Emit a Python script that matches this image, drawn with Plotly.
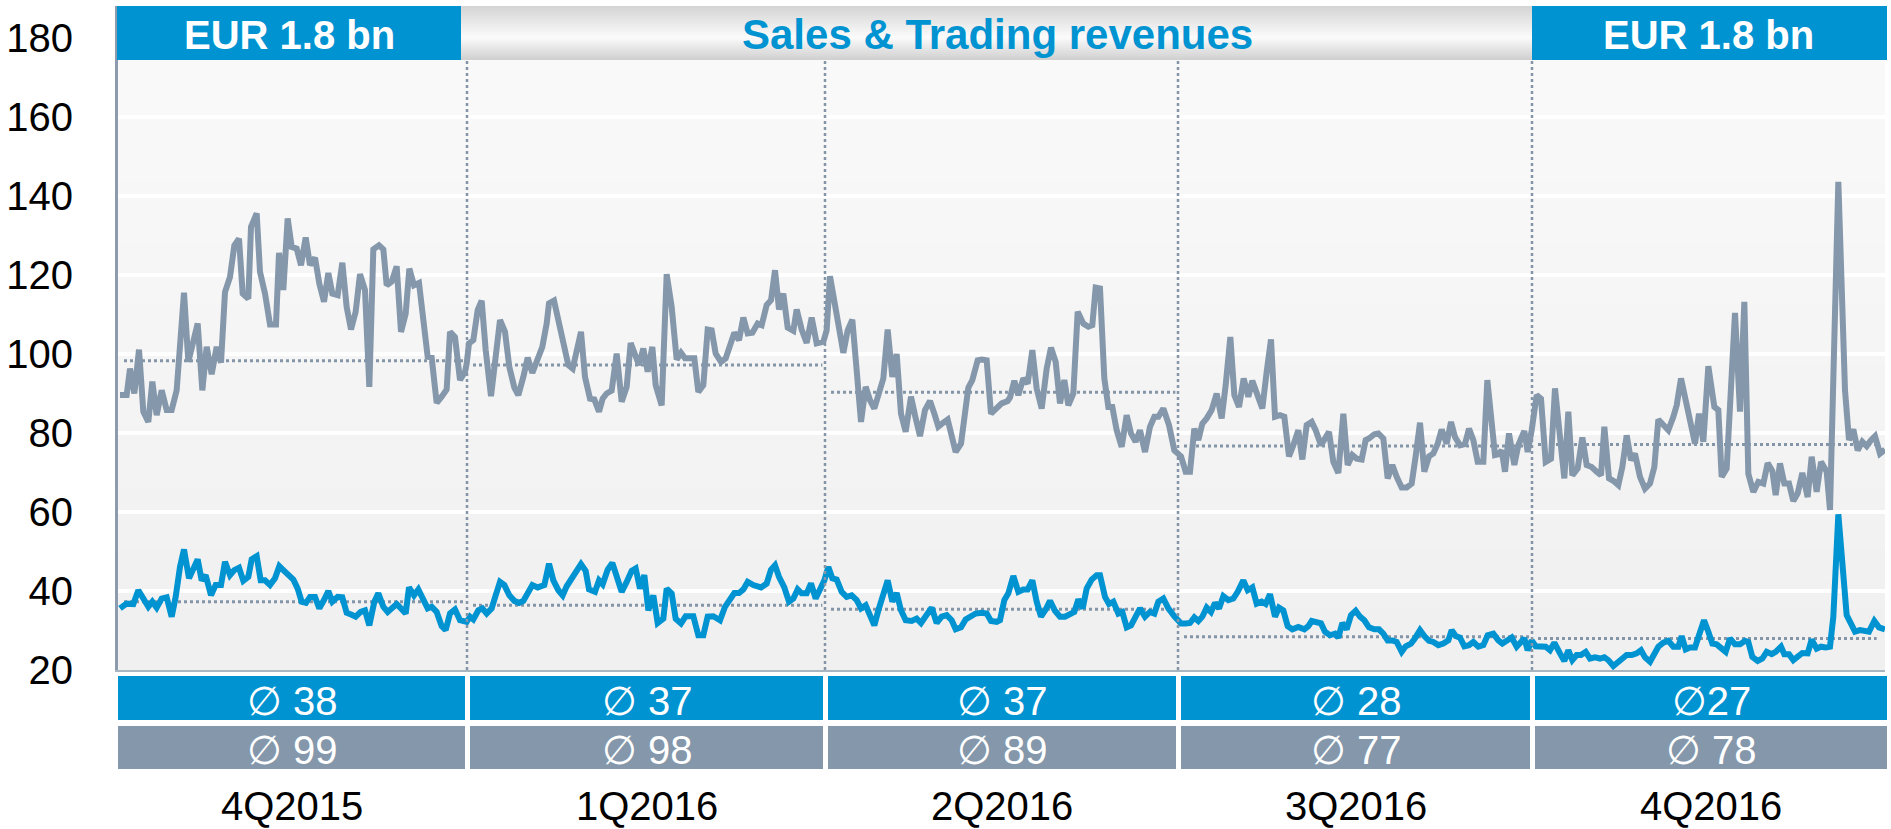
import plotly.graph_objects as go

# ---------------- data ----------------
quarters = ["4Q2015", "1Q2016", "2Q2016", "3Q2016", "4Q2016"]
header_left = "EUR 1.8 bn"
header_right = "EUR 1.8 bn"
title_text = "Sales & Trading revenues"
avg_blue_labels = ["∅ 38", "∅ 37", "∅ 37", "∅ 28", "∅27"]
avg_gray_labels = ["∅ 99", "∅ 98", "∅ 89", "∅ 77", "∅ 78"]
avg_blue_level = [37.3, 36.4, 35.4, 28.4, 28.0]
avg_gray_level = [98.3, 97.2, 90.3, 76.7, 77.1]
y_ticks = [20, 40, 60, 80, 100, 120, 140, 160, 180]

# time axis (trading-time units, one quarter ~ 1060 units)
quarter_bounds = [0, 1047, 2121, 3180, 4242, 5301]
segment_origin = [-9, 1041, 2091, 3141, 4191]

gray_t_q0 = [15,35,45,58,72,85,100,112,125,140,155,170,185,207,220,248,262,275,290,305,318,330,345,358,372,383,400,408,425,435,450,465,483,492,505,518,530,545,558,572,585,600,613,627,640,652,668,682,695,708,722,735,750,763,775,792,805,815,830,845,858,872,883,897,912,925,938,950,965,980,995,1005,1020,1035,1050]
gray_v_q0 = [89.6,89.6,96.3,90.0,101.1,85.4,82.8,93.0,84.5,90.8,85.8,85.8,90.8,115.5,98.0,107.7,90.8,101.8,94.9,101.8,97.8,115.7,119.5,127.5,129.2,115.3,114.0,132.2,135.6,120.8,115.3,107.5,107.5,125.6,116.2,134.3,127.1,126.7,122.5,129.5,122.5,124.4,117.8,113.2,120.5,115.3,114.9,123.1,111.9,106.2,110.7,120.2,116.2,91.7,126.5,127.5,126.5,117.4,118.3,122.2,105.6,110.2,121.6,117.4,118.0,107.3,99.3,99.1,87.6,89.2,91.0,105.6,104.3,93.4,95.5]

gray_t_q1 = [5,12,25,38,50,62,78,92,105,120,133,148,160,175,188,202,218,232,245,252,267,280,295,310,323,335,348,360,375,388,402,413,425,440,455,470,485,497,510,522,535,548,562,572,590,605,620,635,648,660,675,688,700,715,728,740,752,768,782,795,808,822,835,848,862,878,890,905,918,930,942,955,968,985,995,1010,1025,1040,1055,1075]
gray_v_q1 = [97.6,102.7,103.5,111.1,113.5,101.0,89.3,99.3,108.6,105.6,96.7,91.5,89.6,94.2,99.1,95.2,99.3,101.8,107.7,112.8,113.5,108.6,103.7,97.2,96.3,101.0,105.6,94.2,88.7,88.5,85.4,88.7,90.0,90.7,100.1,87.9,91.7,102.8,100.0,97.2,101.4,95.5,101.8,92.1,87.0,120.2,111.9,98.6,100.3,98.9,98.9,98.9,90.4,92.1,106.2,106.0,100.1,98.0,98.9,101.8,105.4,103.5,109.2,105.2,105.4,107.7,107.3,112.4,113.6,121.2,111.3,115.3,106.7,105.9,111.3,106.2,102.8,109.2,102.7,103.1]

gray_t_q2 = [35,45,60,72,85,98,112,125,138,152,165,178,192,205,218,232,245,258,272,288,300,315,330,345,358,370,385,398,412,422,438,450,460,472,488,500,515,528,545,560,578,585,598,610,625,638,652,665,680,695,708,722,735,748,760,775,788,805,820,832,842,855,868,880,892,905,920,935,948,962,975,990,1005,1018,1030,1045,1062,1078]
gray_v_q2 = [106.0,119.7,111.9,105.6,100.3,106.0,108.7,95.9,82.8,91.7,88.3,86.2,90.4,93.8,106.2,94.2,100.0,84.9,80.3,89.2,84.5,79.2,85.8,88.1,84.9,81.6,82.6,83.4,78.6,75.2,77.3,84.9,91.5,93.4,98.4,98.6,98.4,84.9,86.2,87.5,88.1,89.0,93.2,89.6,93.8,92.5,101.0,91.3,86.2,96.3,101.6,98.0,87.5,93.4,87.0,90.0,110.7,107.7,106.9,107.3,116.8,116.6,93.8,86.6,86.6,80.7,76.5,84.5,79.9,77.8,80.7,75.2,81.6,84.1,84.1,86.2,82.0,75.6]

gray_t_q3 = [48,62,75,88,100,112,125,140,155,170,182,196,208,222,236,250,262,278,292,305,318,330,345,358,372,385,400,412,425,440,452,468,478,492,505,520,535,548,562,575,590,602,612,628,640,655,668,682,695,710,725,740,752,765,778,792,805,818,830,845,858,870,885,900,912,925,938,955,967,980,990,1000,1010,1020,1032,1048,1060,1078,1088]
gray_v_q3 = [74.1,70.2,70.2,81.1,78.2,82.4,83.7,85.8,90.0,83.7,92.1,104.3,89.6,86.6,93.8,89.2,93.2,89.2,86.2,95.5,103.7,84.1,84.5,84.1,74.1,76.9,80.7,73.3,82.0,82.8,80.7,76.9,78.2,80.3,72.7,69.9,84.9,71.9,74.4,73.5,73.3,78.2,78.6,79.7,79.9,78.6,68.5,71.9,68.9,66.2,66.2,67.2,74.1,82.6,70.2,74.1,74.8,77.3,80.9,77.3,82.8,79.0,76.9,77.2,81.1,78.2,72.7,72.7,93.4,83.2,74.4,74.6,75.6,70.2,79.9,71.9,76.9,80.5,75.2]

gray_t_q4 = [50,65,78,92,108,120,135,148,160,172,188,202,215,230,245,258,268,282,295,310,322,335,348,360,375,390,405,418,430,445,460,475,485,498,510,522,540,552,565,580,598,610,620,635,648,660,675,688,700,715,730,745,758,772,782,795,808,822,835,848,862,878,890,905,918,935,945,970,990,1002,1015,1028,1042,1055,1068,1080,1095,1110]
gray_v_q4 = [80.7,89.6,88.7,72.7,73.5,91.3,79.0,68.5,85.4,69.3,71.0,78.9,71.9,71.4,70.2,69.3,81.6,68.5,67.9,66.8,71.4,79.4,73.1,74.8,68.9,65.9,67.2,71.4,83.4,82.0,80.7,84.1,87.0,93.8,89.2,84.9,77.3,84.9,77.8,96.9,86.6,85.8,68.9,71.0,89.6,110.4,85.4,113.2,69.7,65.1,67.6,67.2,72.4,70.4,64.3,72.3,67.2,67.2,62.8,64.7,69.9,63.8,74.0,65.1,72.7,70.2,60.5,143.6,90.8,78.2,80.9,75.6,77.8,76.7,78.2,79.2,74.8,75.8]

blue_t_q0 = [15,35,55,70,85,100,112,125,140,155,170,182,195,207,222,235,248,260,272,288,302,318,330,345,358,372,385,400,410,425,437,450,465,480,493,505,520,535,548,560,573,585,600,613,627,640,652,668,682,695,710,722,737,750,763,778,790,805,818,832,845,858,872,882,897,910,925,938,950,965,980,992,1005,1020,1035,1050]
blue_v_q0 = [35.6,36.8,36.7,40.2,38.1,36.0,37.3,35.8,38.1,38.4,33.5,38.5,46.1,50.5,43.2,45.3,48.0,42.7,44.0,38.9,41.5,41.5,47.4,44.0,45.3,45.9,42.6,43.6,48.0,48.8,42.7,42.7,41.5,43.2,46.3,45.3,44.0,42.9,40.6,37.3,37.0,38.5,38.5,35.6,37.7,40.0,37.3,38.5,38.4,34.5,34.0,33.5,34.7,35.1,31.3,37.3,39.4,36.0,34.7,35.8,36.7,35.6,34.3,40.9,38.9,40.4,38.1,35.6,36.0,34.7,31.1,30.1,34.3,35.3,32.6,32.2]

blue_t_q1 = [5,15,25,40,52,65,80,92,105,118,133,148,162,175,190,202,218,238,252,265,280,293,305,320,335,348,362,372,390,402,413,428,442,455,470,485,500,512,525,538,550,565,578,595,605,620,632,648,662,685,700,715,728,745,765,780,795,808,822,835,848,865,888,905,918,930,942,958,972,985,998,1010,1025,1038,1052,1065,1078]
blue_v_q1 = [32.2,33.5,32.8,35.1,35.6,34.3,35.6,38.9,42.3,41.5,38.9,37.5,37.0,37.5,39.4,41.5,40.9,41.5,46.9,42.7,40.2,38.9,41.2,43.2,45.1,46.8,45.1,40.4,39.8,42.7,41.7,45.4,47.1,43.2,39.8,42.3,45.1,45.7,40.6,44.0,35.1,38.9,31.9,33.0,40.6,39.4,33.0,31.8,33.6,33.6,28.8,28.8,33.5,33.6,32.6,36.0,38.1,39.5,39.5,40.4,42.3,41.5,40.9,41.9,45.4,46.5,43.6,40.9,37.3,38.1,40.4,39.4,39.4,41.9,38.1,40.2,42.7]

blue_t_q2 = [40,52,65,80,95,110,125,138,152,165,178,190,205,218,232,245,258,272,290,305,318,332,350,365,380,395,410,422,438,452,468,482,500,515,528,545,555,568,580,595,610,625,638,652,665,678,692,705,720,735,750,765,778,790,803,815,830,845,855,870,882,895,910,922,935,948,960,975,990,1005,1018,1030,1045,1060,1078]
blue_v_q2 = [46.1,43.2,42.9,39.8,38.5,38.9,37.7,35.6,36.4,33.9,31.3,35.1,39.4,42.7,37.3,39.5,35.1,32.6,32.4,33.0,31.9,33.5,35.8,31.9,33.5,33.9,32.6,30.3,30.8,32.8,33.5,34.3,34.5,34.3,32.4,32.2,32.6,37.7,39.4,43.8,39.8,40.4,40.4,42.7,37.3,33.5,35.3,37.5,35.0,33.5,33.5,34.3,34.7,37.9,35.6,40.6,42.9,44.0,44.0,38.5,36.7,37.3,34.3,34.7,30.8,31.3,33.5,35.6,33.5,34.7,34.3,37.3,38.1,35.6,33.6]

blue_t_q3 = [48,62,75,88,100,112,125,138,150,162,175,190,205,218,235,248,262,275,290,302,315,330,342,355,368,382,400,418,430,440,455,468,480,495,510,520,532,545,558,572,585,598,612,628,642,655,668,682,695,710,722,738,750,765,778,792,805,820,835,850,860,872,885,898,912,925,940,955,968,985,1000,1012,1025,1040,1055,1068,1078,1088]
blue_v_q3 = [31.8,31.8,31.9,33.3,32.4,33.5,35.8,34.7,37.0,35.6,38.7,37.7,38.1,39.8,42.7,40.2,40.9,36.8,37.3,36.7,39.2,33.5,35.8,35.1,31.1,30.3,30.9,30.3,31.1,32.4,32.2,31.8,29.7,28.8,29.2,28.2,31.9,30.3,33.9,35.0,33.5,32.6,30.8,30.3,30.3,29.2,27.5,27.5,27.1,24.6,26.0,26.7,28.0,30.1,28.6,27.4,27.1,26.3,26.7,27.5,30.1,28.6,28.2,26.0,26.3,27.1,25.9,26.3,28.8,29.2,27.5,26.7,27.4,28.2,25.9,26.9,28.0,25.0]

blue_t_q4 = [50,62,78,92,105,118,135,148,160,172,185,198,212,225,240,255,268,280,295,310,322,335,350,365,378,390,405,418,430,445,460,475,490,500,512,525,540,552,567,580,592,605,618,632,645,660,675,690,700,712,728,742,755,770,782,798,808,822,835,850,862,878,890,905,918,932,945,955,970,995,1008,1020,1035,1048,1062,1078,1092,1110]
blue_v_q4 = [27.5,26.0,26.0,25.9,25.0,26.9,24.2,22.3,25.0,22.5,23.8,23.8,24.6,22.9,23.2,22.9,23.2,22.5,21.0,22.1,22.9,23.8,23.8,24.2,25.0,23.2,22.1,23.8,25.9,26.9,27.4,25.9,25.9,28.6,25.2,25.7,25.7,28.8,32.6,29.7,26.7,26.5,25.4,24.6,28.0,26.5,26.5,27.4,27.1,23.3,22.3,22.9,24.6,24.0,24.6,25.9,24.0,24.0,22.5,23.3,24.3,24.2,27.7,25.4,25.9,25.7,25.9,33.5,59.4,33.9,31.8,29.7,30.1,29.9,29.7,32.4,30.8,30.3]

gray_t = [gray_t_q0, gray_t_q1, gray_t_q2, gray_t_q3, gray_t_q4]
gray_v = [gray_v_q0, gray_v_q1, gray_v_q2, gray_v_q3, gray_v_q4]
blue_t = [blue_t_q0, blue_t_q1, blue_t_q2, blue_t_q3, blue_t_q4]
blue_v = [blue_v_q0, blue_v_q1, blue_v_q2, blue_v_q3, blue_v_q4]

# ---------------- styling ----------------
BLUE = "#0093d1"
GRAY = "#8497ab"
DIV = "#8495a8"
FONT = "Liberation Sans, Arial, DejaVu Sans, sans-serif"

W, H = 1891, 829
L, R, T, B = 118, 1885, 6, 670
PX_PER_UNIT = 3.95
Y_TOP = 20 + (B - T) / PX_PER_UNIT


def xp(px):
    return (px - L) / (R - L)


def yp(py):
    return (B - py) / (B - T)


def flat(ts, vs):
    xs, ys = [], []
    for q in range(len(ts)):
        xs += [segment_origin[q] + t for t in ts[q]]
        ys += list(vs[q])
    return xs, ys


fig = go.Figure()
gx, gy = flat(gray_t, gray_v)
bx, by = flat(blue_t, blue_v)
fig.add_trace(go.Scatter(x=gx, y=gy, mode="lines", line=dict(color=GRAY, width=6),
                         hoverinfo="skip", showlegend=False))
fig.add_trace(go.Scatter(x=bx, y=by, mode="lines", line=dict(color=BLUE, width=6),
                         hoverinfo="skip", showlegend=False))

shapes = []


def hexmix(c1, c2, f):
    a = [int(c1[i:i + 2], 16) for i in (1, 3, 5)]
    b = [int(c2[i:i + 2], 16) for i in (1, 3, 5)]
    return "#%02x%02x%02x" % tuple(round(a[k] + (b[k] - a[k]) * f) for k in range(3))


# plot background gradient
nb = 20
for i in range(nb):
    y0 = 60 + i * (B - 60) / nb
    y1 = 60 + (i + 1) * (B - 60) / nb
    shapes.append(dict(type="rect", xref="paper", yref="paper", x0=0, x1=1,
                       y0=yp(y1), y1=yp(y0), line=dict(width=0),
                       fillcolor=hexmix("#f9f9f9", "#f0f0f0", i / (nb - 1)), layer="below"))

# header gradient bar
hb = 27
for i in range(hb):
    y0 = 6 + i * 2
    f = (y0 + 1 - 6) / 54.0
    if f < 0.58:
        c = hexmix("#d4d4d4", "#fbfbfb", f / 0.58)
    else:
        c = hexmix("#fbfbfb", "#cfcfcf", (f - 0.58) / 0.42)
    shapes.append(dict(type="rect", xref="paper", yref="paper", x0=xp(461), x1=xp(1532),
                       y0=yp(y0 + 2), y1=yp(y0), line=dict(width=0), fillcolor=c, layer="above"))
# header blue boxes
for (a, b_) in [(117, 461), (1532, 1887)]:
    shapes.append(dict(type="rect", xref="paper", yref="paper", x0=xp(a), x1=xp(b_),
                       y0=yp(60), y1=yp(6), line=dict(width=0), fillcolor=BLUE, layer="above"))

# quarter dividers
for qb in quarter_bounds[1:-1]:
    shapes.append(dict(type="line", xref="x", yref="paper", x0=qb, x1=qb,
                       y0=0, y1=yp(60), line=dict(color=DIV, width=2.5, dash="dot"), layer="above"))

# average lines
for q in range(5):
    x0 = quarter_bounds[q] + 18
    x1 = quarter_bounds[q + 1] - (25 if q == 4 else 8)
    for lvl in (avg_gray_level[q], avg_blue_level[q]):
        shapes.append(dict(type="line", xref="x", yref="y", x0=x0, x1=x1, y0=lvl, y1=lvl,
                           line=dict(color=DIV, width=3, dash="dot"), layer="below"))

# bottom boxes
box_edges = []
for q in range(5):
    a = L + (quarter_bounds[q]) / 3.0
    b_ = L + (quarter_bounds[q + 1]) / 3.0
    a = L if q == 0 else a + 3
    b_ = 1887 if q == 4 else b_ - 2
    box_edges.append((a, b_))
    shapes.append(dict(type="rect", xref="paper", yref="paper", x0=xp(a), x1=xp(b_),
                       y0=yp(720), y1=yp(676), line=dict(width=0), fillcolor=BLUE))
    shapes.append(dict(type="rect", xref="paper", yref="paper", x0=xp(a), x1=xp(b_),
                       y0=yp(769), y1=yp(726), line=dict(width=0), fillcolor=GRAY))

annotations = []
for q in range(5):
    a, b_ = box_edges[q]
    cx = xp((a + b_) / 2)
    annotations.append(dict(text=avg_blue_labels[q], x=cx, y=yp(701), xref="paper", yref="paper",
                            showarrow=False, xanchor="center", yanchor="middle",
                            font=dict(family=FONT, size=40, color="white")))
    annotations.append(dict(text=avg_gray_labels[q], x=cx, y=yp(750), xref="paper", yref="paper",
                            showarrow=False, xanchor="center", yanchor="middle",
                            font=dict(family=FONT, size=40, color="white")))
    annotations.append(dict(text=quarters[q], x=cx, y=yp(806), xref="paper", yref="paper",
                            showarrow=False, xanchor="center", yanchor="middle",
                            font=dict(family=FONT, size=40, color="black")))

annotations.append(dict(text="<b>%s</b>" % header_left, x=xp(289), y=yp(35), xref="paper", yref="paper",
                        showarrow=False, xanchor="center", yanchor="middle",
                        font=dict(family=FONT, size=40, color="white")))
annotations.append(dict(text="<b>%s</b>" % header_right, x=xp(1708), y=yp(35), xref="paper", yref="paper",
                        showarrow=False, xanchor="center", yanchor="middle",
                        font=dict(family=FONT, size=40, color="white")))
annotations.append(dict(text="<b>%s</b>" % title_text, x=xp(997), y=yp(35), xref="paper", yref="paper",
                        showarrow=False, xanchor="center", yanchor="middle",
                        font=dict(family=FONT, size=42, color=BLUE)))

fig.update_layout(
    width=W, height=H,
    margin=dict(l=L, r=W - R, t=T, b=H - B, pad=0),
    paper_bgcolor="white", plot_bgcolor="#f5f5f5",
    showlegend=False,
    shapes=shapes, annotations=annotations,
    font=dict(family=FONT),
)
fig.update_xaxes(range=[quarter_bounds[0], quarter_bounds[-1]], showgrid=False, zeroline=False,
                 showticklabels=False, ticks="", showline=True, linecolor="#aab5c2", linewidth=2,
                 fixedrange=True)
fig.update_yaxes(range=[20, Y_TOP], tickvals=y_ticks, showgrid=True, gridcolor="white", gridwidth=4,
                 zeroline=False, showline=True, linecolor="#8c9bad", linewidth=3,
                 ticks="outside", ticklen=34, tickcolor="rgba(0,0,0,0)",
                 tickfont=dict(family=FONT, size=40, color="black"), fixedrange=True)

fig.write_html("out.html", config={"displayModeBar": False},
               post_script="document.body.style.margin='0';document.body.style.overflow='hidden';")
